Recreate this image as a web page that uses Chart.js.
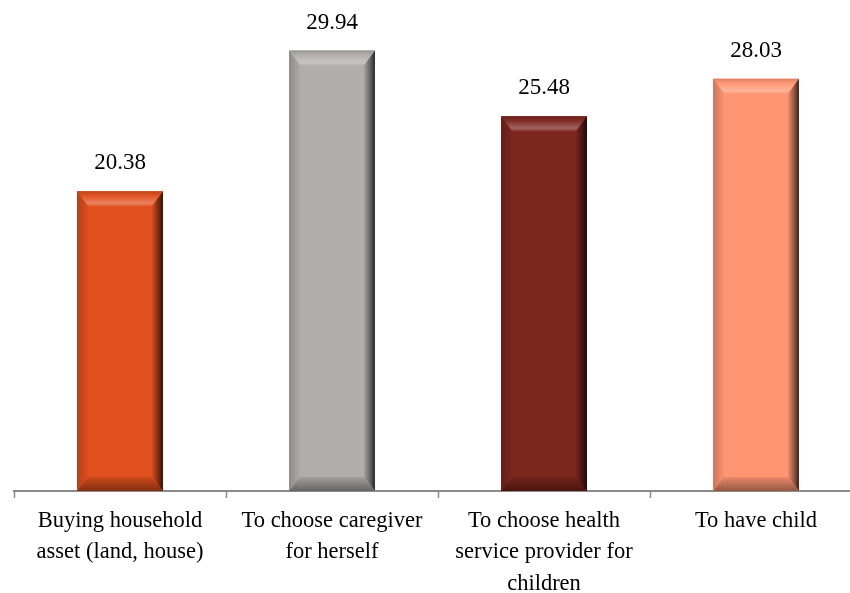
<!DOCTYPE html>
<html>
<head>
<meta charset="utf-8">
<script src="https://cdn.jsdelivr.net/npm/chart.js@4.4.0/dist/chart.umd.min.js"></script>
<style>
  html, body { margin: 0; padding: 0; background: #ffffff; overflow: hidden; }
  #wrap { width: 850px; height: 593px; overflow: hidden; position: relative; }
  #box { width: 862px; height: 593px; position: absolute; left: 0; top: 0; }
</style>
</head>
<body>
<div id="wrap"><div id="box"><canvas id="chart"></canvas></div></div>
<script>
// Decision areas and the share (%) reported for each
const categories = [
  ["Buying household", "asset (land, house)"],
  ["To choose caregiver", "for herself"],
  ["To choose health", "service provider for", "children"],
  ["To have child"]
];
const values = [20.38, 29.94, 25.48, 28.03];
const barColors = ["#E0501F", "#B1ADAC", "#7D261E", "#FF9572"];

const FONT = "'Liberation Serif', 'DejaVu Serif', serif";

function hexToRgb(h) {
  const n = parseInt(h.slice(1), 16);
  return [(n >> 16) & 255, (n >> 8) & 255, n & 255];
}
// factor > 0 mixes toward white, factor < 0 toward black
function shade(hex, f) {
  const c = hexToRgb(hex).map(v => f >= 0 ? v + (255 - v) * f : v * (1 + f));
  return `rgb(${c.map(v => Math.round(v)).join(',')})`;
}

// Bevelled edges drawn over each bar from the element geometry
const bevelPlugin = {
  id: 'bevel',
  afterDatasetsDraw(chart) {
    const ctx = chart.ctx;
    const meta = chart.getDatasetMeta(0);
    meta.data.forEach((bar, i) => {
      const col = barColors[i];
      const w = bar.width;
      const L = bar.x - w / 2, R = bar.x + w / 2;
      const T = bar.y, B = bar.base;
      const bt = 15, bs = 11, bb = 14;
      ctx.save();
      // top band
      let g = ctx.createLinearGradient(0, T, 0, T + bt);
      g.addColorStop(0, shade(col, -0.15));
      g.addColorStop(0.3, shade(col, 0.03));
      g.addColorStop(0.8, shade(col, 0.28));
      g.addColorStop(1, shade(col, 0.06));
      ctx.fillStyle = g;
      ctx.beginPath();
      ctx.moveTo(L, T); ctx.lineTo(R, T); ctx.lineTo(R - bs, T + bt); ctx.lineTo(L + bs, T + bt);
      ctx.closePath(); ctx.fill();
      // left band
      g = ctx.createLinearGradient(L, 0, L + bs, 0);
      g.addColorStop(0, shade(col, -0.2));
      g.addColorStop(1, shade(col, -0.02));
      ctx.fillStyle = g;
      ctx.beginPath();
      ctx.moveTo(L, T); ctx.lineTo(L + bs, T + bt); ctx.lineTo(L + bs, B - bb); ctx.lineTo(L, B);
      ctx.closePath(); ctx.fill();
      // right band
      g = ctx.createLinearGradient(R - bs, 0, R, 0);
      g.addColorStop(0, shade(col, -0.05));
      g.addColorStop(0.6, shade(col, -0.45));
      g.addColorStop(1, shade(col, -0.78));
      ctx.fillStyle = g;
      ctx.beginPath();
      ctx.moveTo(R, T); ctx.lineTo(R, B); ctx.lineTo(R - bs, B - bb); ctx.lineTo(R - bs, T + bt);
      ctx.closePath(); ctx.fill();
      // bottom band
      g = ctx.createLinearGradient(0, B - bb, 0, B);
      g.addColorStop(0, shade(col, -0.08));
      g.addColorStop(1, shade(col, -0.42));
      ctx.fillStyle = g;
      ctx.beginPath();
      ctx.moveTo(L, B); ctx.lineTo(R, B); ctx.lineTo(R - bs, B - bb); ctx.lineTo(L + bs, B - bb);
      ctx.closePath(); ctx.fill();
      ctx.restore();
    });
  }
};

// Value printed above each bar
const valueLabels = {
  id: 'valueLabels',
  afterDatasetsDraw(chart) {
    const ctx = chart.ctx;
    const meta = chart.getDatasetMeta(0);
    ctx.save();
    ctx.font = `23px ${FONT}`;
    ctx.fillStyle = '#000000';
    ctx.textAlign = 'center';
    ctx.textBaseline = 'middle';
    meta.data.forEach((bar, i) => {
      ctx.fillText(values[i].toFixed(2), bar.x, bar.y - 28);
    });
    ctx.restore();
  }
};

new Chart(document.getElementById('chart'), {
  type: 'bar',
  data: {
    labels: categories,
    datasets: [{
      data: values,
      backgroundColor: barColors,
      borderWidth: 0,
      categoryPercentage: 1,
      barPercentage: 0.405
    }]
  },
  options: {
    responsive: true,
    maintainAspectRatio: false,
    animation: false,
    layout: { padding: { left: 14, right: 0, top: 0, bottom: 0 } },
    plugins: { legend: { display: false }, tooltip: { enabled: false } },
    scales: {
      y: { display: false, min: 0, max: 33.38 },
      x: {
        offset: true,
        grid: {
          offset: true,
          drawOnChartArea: false,
          drawTicks: true,
          tickLength: 7,
          color: '#8a8a8a',
          tickWidth: 1.5
        },
        border: { color: '#8a8a8a', width: 2 },
        ticks: {
          color: '#000000',
          font: { family: FONT, size: 22.5, lineHeight: 1.38 },
          padding: 8,
          maxRotation: 0,
          autoSkip: false
        },
        afterFit(scale) { scale.height = 102; }
      }
    }
  },
  plugins: [bevelPlugin, valueLabels]
});
</script>
</body>
</html>
